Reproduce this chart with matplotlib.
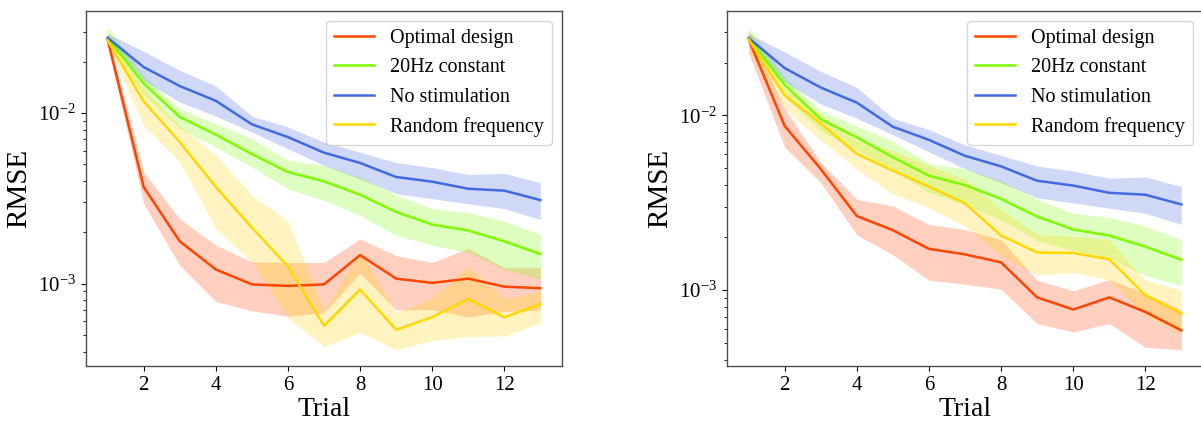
import matplotlib
matplotlib.use('Agg')
import matplotlib.pyplot as plt

import numpy as np

plt.rcParams['font.family'] = ['Liberation Serif', 'DejaVu Serif']
plt.rcParams['mathtext.fontset'] = 'stix'

trials = np.arange(1, 14)

# shared series (same in both panels)
constant_mean = [0.0276, 0.0149, 0.00948, 0.00747, 0.00575, 0.00451, 0.00398, 0.00332, 0.00263, 0.00222, 0.00205, 0.00177, 0.00149]
constant_hi = [0.0319, 0.0166, 0.0106, 0.00867, 0.00708, 0.00528, 0.00493, 0.00422, 0.0033, 0.00275, 0.0026, 0.00232, 0.00194]
constant_lo = [0.0245, 0.0127, 0.0081, 0.00632, 0.00483, 0.0036, 0.00308, 0.00251, 0.00192, 0.00168, 0.00152, 0.00121, 0.00106]

nostim_mean = [0.0276, 0.0186, 0.0144, 0.0118, 0.00859, 0.00723, 0.00586, 0.0051, 0.00422, 0.00396, 0.0036, 0.00351, 0.00309]
nostim_hi = [0.0292, 0.023, 0.0178, 0.0144, 0.0096, 0.00828, 0.00676, 0.0059, 0.00512, 0.00479, 0.00436, 0.00443, 0.00391]
nostim_lo = [0.026, 0.0155, 0.0116, 0.0096, 0.00774, 0.00618, 0.00493, 0.00412, 0.00337, 0.00315, 0.00294, 0.00275, 0.00238]

# left panel
opt_mean_l = [0.027, 0.00368, 0.00177, 0.00121, 0.00099, 0.00097, 0.00099, 0.00147, 0.00107, 0.00101, 0.00107, 0.00096, 0.00094]
opt_hi_l = [0.029, 0.00451, 0.0024, 0.00168, 0.00134, 0.00133, 0.00133, 0.00183, 0.00146, 0.00133, 0.00161, 0.00124, 0.00124]
opt_lo_l = [0.025, 0.00294, 0.00128, 0.000787, 0.000692, 0.000644, 0.000676, 0.00115, 0.0007, 0.000703, 0.000637, 0.000687, 0.000697]

rand_mean_l = [0.0267, 0.0117, 0.00676, 0.00368, 0.00213, 0.00126, 0.000566, 0.000923, 0.000536, 0.000637, 0.000813, 0.000634, 0.00076]
rand_hi_l = [0.029, 0.0139, 0.00847, 0.00565, 0.0033, 0.00232, 0.000703, 0.00155, 0.000673, 0.000824, 0.00126, 0.00081, 0.000902]
rand_lo_l = [0.025, 0.00847, 0.00516, 0.0021, 0.00134, 0.000628, 0.000428, 0.000517, 0.000409, 0.000464, 0.00049, 0.000493, 0.000587]

# right panel
opt_mean_r = [0.0272, 0.00868, 0.00492, 0.00265, 0.0022, 0.00172, 0.0016, 0.00144, 0.000908, 0.000774, 0.000908, 0.00075, 0.000588]
opt_hi_r = [0.0303, 0.0109, 0.00538, 0.0033, 0.00303, 0.00237, 0.00222, 0.00194, 0.00114, 0.00099, 0.00115, 0.000957, 0.000768]
opt_lo_r = [0.0227, 0.00656, 0.00412, 0.00207, 0.00159, 0.00114, 0.00108, 0.00101, 0.000643, 0.000576, 0.000643, 0.000471, 0.000455]

rand_mean_r = [0.0272, 0.013, 0.00895, 0.00601, 0.00482, 0.00391, 0.00313, 0.00205, 0.00164, 0.00163, 0.0015, 0.000935, 0.000733]
rand_hi_r = [0.0303, 0.0143, 0.01, 0.00717, 0.00628, 0.00515, 0.00431, 0.0029, 0.00208, 0.00203, 0.00194, 0.00114, 0.001]
rand_lo_r = [0.0232, 0.0109, 0.00717, 0.00492, 0.00353, 0.00296, 0.00232, 0.00156, 0.00122, 0.00126, 0.00114, 0.000718, 0.000562]

labels = ['Optimal design', '20Hz constant', 'No stimulation', 'Random frequency']
colors = ['orangered', 'lawngreen', 'royalblue', 'gold']


def draw_panel(ax, series):
    for (mean, hi, lo), label, color in zip(series, labels, colors):
        ax.fill_between(trials, lo, hi, color=color, alpha=0.25, linewidth=0)
        ax.plot(trials, mean, color=color, linewidth=1.8, label=label)
    ax.set_yscale('log')
    ax.set_xticks([2, 4, 6, 8, 10, 12])
    ax.set_xlabel('Trial', fontsize=20, labelpad=2)
    ax.set_ylabel('RMSE', fontsize=21)
    ax.tick_params(labelsize=15)
    for spine in ax.spines.values():
        spine.set_color('0.3')
        spine.set_linewidth(1.0)
    ax.legend(loc='upper right', fontsize=14.5)


fig = plt.figure(figsize=(12.01, 4.22), dpi=100)
ax1 = fig.add_axes([86/1201, 56/422, 476/1201, 355/422])
ax2 = fig.add_axes([727/1201, 56/422, 476/1201, 355/422])

draw_panel(ax1, [(opt_mean_l, opt_hi_l, opt_lo_l),
                 (constant_mean, constant_hi, constant_lo),
                 (nostim_mean, nostim_hi, nostim_lo),
                 (rand_mean_l, rand_hi_l, rand_lo_l)])
draw_panel(ax2, [(opt_mean_r, opt_hi_r, opt_lo_r),
                 (constant_mean, constant_hi, constant_lo),
                 (nostim_mean, nostim_hi, nostim_lo),
                 (rand_mean_r, rand_hi_r, rand_lo_r)])

fig.savefig('out.png', dpi=100)
